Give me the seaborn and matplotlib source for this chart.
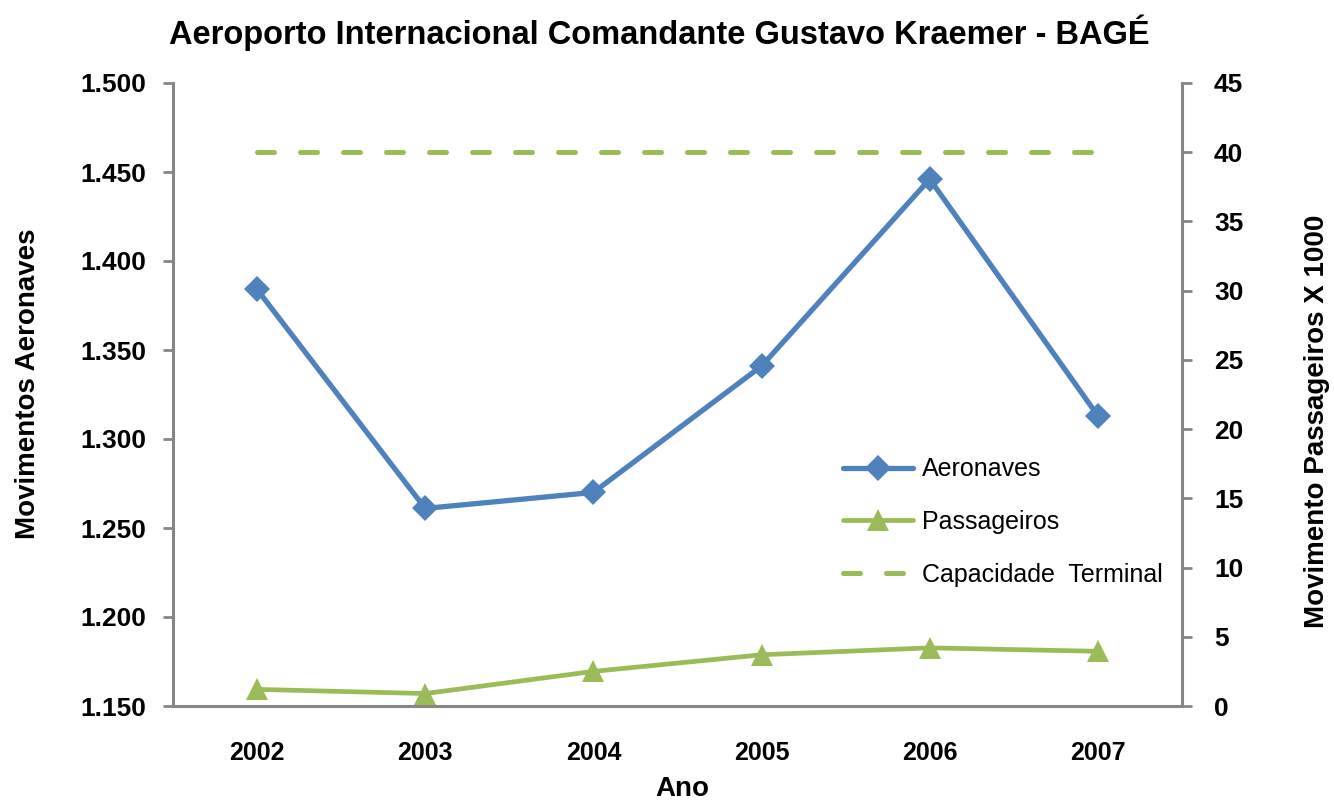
import pandas as pd
import seaborn as sns
import matplotlib.pyplot as plt
from matplotlib.ticker import FuncFormatter, MultipleLocator

# data
anos = ["2002", "2003", "2004", "2005", "2006", "2007"]
aeronaves = [1384, 1261, 1270, 1341, 1446, 1313]
passageiros = [1.2, 0.9, 2.5, 3.7, 4.2, 3.95]
capacidade = [40, 40, 40, 40, 40, 40]

AZUL = "#4F81BD"
VERDE = "#9BBB59"
CINZA = "#868686"

sns.set_style("white")
plt.rcParams["font.family"] = ["Liberation Sans", "DejaVu Sans"]
plt.rcParams["text.color"] = "black"
plt.rcParams["axes.labelcolor"] = "black"

df = pd.DataFrame({"Ano": anos, "Aeronaves": aeronaves,
                   "Passageiros": passageiros, "Capacidade": capacidade})

fig = plt.figure(figsize=(13.34, 8.02), dpi=100)
ax = fig.add_axes([173 / 1334, 1 - 706 / 802, 1009 / 1334, 623 / 802])
ax2 = ax.twinx()

sns.lineplot(data=df, x="Ano", y="Aeronaves", ax=ax, color=AZUL, lw=3.8,
             marker="D", markersize=13, markeredgewidth=0, label="Aeronaves", legend=False)
sns.lineplot(data=df, x="Ano", y="Passageiros", ax=ax2, color=VERDE, lw=3.4,
             marker="^", markersize=16, markeredgewidth=0, label="Passageiros", legend=False)
sns.lineplot(data=df, x="Ano", y="Capacidade", ax=ax2, color=VERDE, lw=3.6,
             dashes=False, label="Capacidade  Terminal", legend=False)
cap_line = ax2.get_lines()[-1]
cap_line.set_dashes((3.4, 5.2))
cap_line.set_dash_capstyle("round")

ax.set_xlim(-0.5, 5.5)
ax.set_ylim(1150, 1500)
ax.yaxis.set_major_locator(MultipleLocator(50))
ax.yaxis.set_major_formatter(FuncFormatter(lambda v, p: f"{v:,.0f}".replace(",", ".")))
ax2.set_ylim(0, 45)
ax2.yaxis.set_major_locator(MultipleLocator(5))

for a in (ax, ax2):
    for s in a.spines.values():
        s.set_visible(False)
    a.grid(False)
ax.spines["left"].set_visible(True)
ax.spines["bottom"].set_visible(True)
ax2.spines["right"].set_visible(True)
for s in (ax.spines["left"], ax.spines["bottom"], ax2.spines["right"]):
    s.set_color(CINZA)
    s.set_linewidth(2.2)

ax.tick_params(axis="y", direction="out", length=7, width=2, color=CINZA,
               labelcolor="black", labelsize=19, left=True, pad=12)
ax.tick_params(axis="x", length=0, labelsize=18, labelcolor="black", pad=25)
ax2.tick_params(axis="y", direction="out", length=7, width=2, color=CINZA,
                labelcolor="black", labelsize=19, right=True, pad=16)
for lab in ax.get_xticklabels() + ax.get_yticklabels() + ax2.get_yticklabels():
    lab.set_fontweight("bold")

ax.set_xlabel("Ano", fontsize=20, fontweight="bold")
ax.xaxis.set_label_coords(0.505, -0.113)
ax.set_ylabel("Movimentos Aeronaves", fontsize=20, fontweight="bold")
ax.yaxis.set_label_coords(-0.131, 0.518)
ax2.set_ylabel("Movimento Passageiros X 1000", fontsize=20, fontweight="bold")
ax2.yaxis.set_label_coords(1.121, 0.457)

fig.text(659 / 1334, 1 - 33 / 802, "Aeroporto Internacional Comandante Gustavo Kraemer - BAGÉ",
         ha="center", va="center", fontsize=23.5, fontweight="bold")

handles = ax.get_lines() + ax2.get_lines()
labels = ["Aeronaves", "Passageiros", "Capacidade  Terminal"]
ax2.legend(handles, labels, loc="upper left", bbox_to_anchor=(0.664, 0.399),
           frameon=False, fontsize=18, handlelength=2.8, labelspacing=1.15,
           handletextpad=0.36, borderpad=0, borderaxespad=0)

fig.savefig("out.png", dpi=100)
